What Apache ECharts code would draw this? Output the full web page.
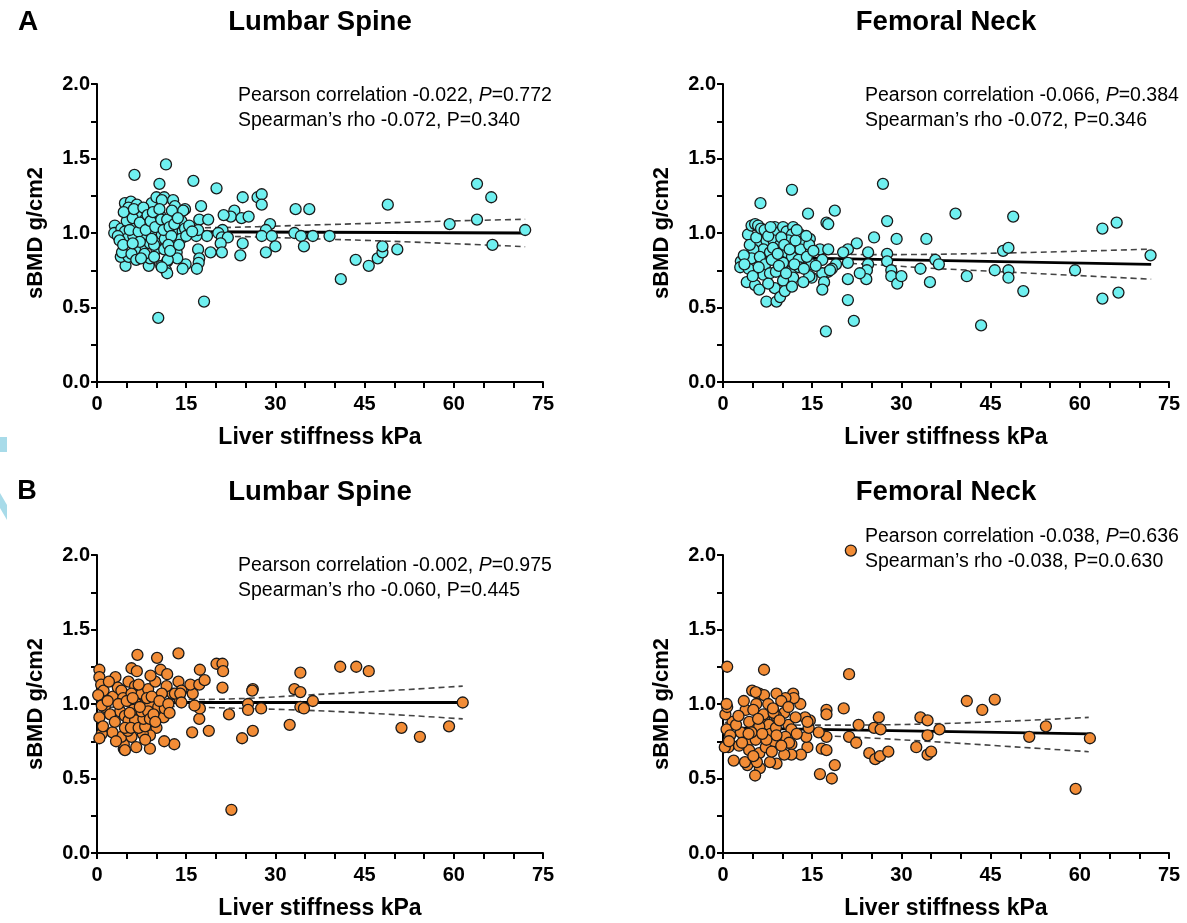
<!DOCTYPE html>
<html>
<head>
<meta charset="utf-8">
<script src="https://cdn.jsdelivr.net/npm/echarts@6/dist/echarts.min.js"></script>
<style>
html,body{margin:0;padding:0;background:#fff;}
#chart{width:1187px;height:923px;}
</style>
</head>
<body>
<div id="chart"></div>
<script>
// ---------------- DATA ----------------
const xTicks = [0, 15, 30, 45, 60, 75];
const yTicks = [0.0, 0.5, 1.0, 1.5, 2.0];
const panelTitles = ['Lumbar Spine', 'Femoral Neck', 'Lumbar Spine', 'Femoral Neck'];
const rowLabels = ['A', 'B'];
const xName = 'Liver stiffness kPa';
const yName = 'sBMD g/cm2';
const pearsonText = ['-0.022', '-0.066', '-0.002', '-0.038'];
const pearsonP = ['0.772', '0.384', '0.975', '0.636'];
const spearmanText = ['-0.072', '-0.072', '-0.060', '-0.038'];
const spearmanP = ['0.340', '0.346', '0.445', '0.0.630'];

// Panel A, Lumbar Spine  [liver stiffness kPa, sBMD]
const aLumbar = [
[6.3,1.39],[11.6,1.46],[10.5,1.33],[16.2,1.35],[20.1,1.30],[24.5,1.24],[27.0,1.24],[27.7,1.26],[27.7,1.19],[17.5,1.18],
[14.8,1.16],[33.4,1.16],[35.7,1.16],[48.9,1.19],[63.9,1.33],[66.3,1.24],[59.3,1.06],[63.9,1.09],[72.0,1.02],[66.5,0.92],
[23.1,1.15],[22.5,1.11],[21.3,1.12],[24.3,1.10],[25.5,1.11],[17.2,1.09],[18.7,1.09],[29.1,1.06],[28.4,1.02],[21.1,1.02],
[20.4,1.00],[21.0,0.97],[22.0,0.97],[20.8,0.93],[24.5,0.93],[24.1,0.85],[21.0,0.87],[19.1,0.87],[18.5,0.98],[16.7,0.98],
[17.0,0.89],[17.2,0.83],[17.1,0.80],[16.8,0.76],[14.9,0.79],[14.4,0.76],[18.0,0.54],[10.3,0.43],[27.7,0.98],[29.4,0.98],
[28.4,0.87],[30.0,0.91],[33.2,1.00],[34.3,0.98],[34.8,0.91],[36.3,0.98],[39.1,0.98],[41.0,0.69],[43.5,0.82],[45.7,0.78],
[47.2,0.83],[48.0,0.87],[48.0,0.91],[50.5,0.89],[11.8,0.81],[11.6,0.75],[11.8,0.73],[10.8,0.78],[8.8,0.80],[8.7,0.78],
[4.8,0.78],[4.0,0.84],[5.3,0.84],[4.2,0.87],[13.4,0.87],[13.5,0.83],
[3.0,1.05],[2.9,1.00],[4.1,1.03],[4.7,1.20],[5.7,1.21],[5.3,1.17],[5.3,1.11],[5.0,1.08],[4.7,1.01],[5.0,0.96],
[6.7,1.19],[6.7,1.13],[6.7,1.06],[6.1,0.98],[7.5,1.13],[8.4,1.15],[8.1,1.09],[8.6,1.05],[7.8,0.99],[7.5,0.89],
[6.4,0.89],[5.8,0.86],[8.9,0.93],[9.2,1.20],[10.0,1.24],[11.3,1.24],[10.9,1.22],[10.6,1.12],[10.3,1.06],[9.5,1.00],
[10.0,0.95],[10.9,0.99],[11.7,1.05],[11.9,1.01],[11.4,0.96],[10.0,0.89],[11.3,0.89],[11.9,0.82],[10.9,0.77],[12.8,1.22],
[13.1,1.18],[12.8,1.12],[13.4,1.02],[13.1,0.95],[14.5,1.15],[14.2,1.08],[14.4,1.01],[14.1,0.96],[14.8,1.03],[8.9,0.83],
[17.0,1.02],[3.5,0.98],[4.5,1.14],[5.5,1.02],[6.0,1.10],[6.2,1.16],[7.0,1.01],[7.2,1.07],[7.8,1.17],[8.2,1.02],
[8.5,1.12],[9.0,1.08],[9.4,1.14],[9.8,1.04],[9.6,0.92],[10.5,1.16],[10.8,1.09],[11.2,1.02],[11.8,1.09],[12.2,1.04],
[12.5,0.98],[12.0,0.92],[12.6,1.15],[13.0,1.06],[13.6,1.10],[7.2,0.94],[6.6,0.82],[8.0,0.86],[9.2,0.96],[3.8,0.95],
[4.4,0.92],[6.0,0.93],[7.4,0.83],[9.6,0.84],[12.3,0.88],[13.8,0.92],[15.0,0.98],[15.5,1.05],[16.0,1.01]
];

// Panel A, Femoral Neck
const aFemoral = [
[26.9,1.33],[11.6,1.29],[6.3,1.20],[14.3,1.13],[18.8,1.15],[17.4,1.07],[17.7,1.06],[27.6,1.08],[39.1,1.13],[48.8,1.11],
[63.8,1.03],[66.2,1.07],[71.9,0.85],[59.2,0.75],[63.8,0.56],[66.5,0.60],[43.4,0.38],[17.3,0.34],[22.0,0.41],[21.0,0.55],
[21.0,0.69],[25.4,0.97],[29.2,0.96],[34.2,0.96],[35.7,0.82],[36.3,0.79],[33.2,0.76],[34.8,0.67],[41.0,0.71],[45.7,0.75],
[47.1,0.88],[48.0,0.90],[48.0,0.75],[48.0,0.70],[50.5,0.61],[27.6,0.86],[27.6,0.81],[28.3,0.75],[28.3,0.71],[29.3,0.66],
[30.0,0.71],[24.4,0.87],[24.4,0.79],[24.2,0.75],[24.1,0.69],[23.0,0.73],[22.5,0.93],[21.0,0.89],[20.2,0.87],[21.0,0.80],
[19.0,0.79],[18.3,0.76],[17.7,0.74],[16.7,0.73],[17.0,0.67],[16.7,0.62],[16.3,0.89],[17.7,0.89],[16.7,0.82],[14.9,0.70],
[14.5,0.71],[14.9,0.79],
[3.0,0.81],[2.9,0.77],[4.3,0.76],[4.0,0.67],[5.4,0.65],[6.1,0.62],[4.2,0.99],[4.8,1.05],[5.4,1.06],[5.9,1.05],
[6.5,1.00],[6.1,0.94],[7.3,0.95],[6.8,0.89],[5.1,0.89],[4.8,0.83],[6.2,0.84],[7.1,0.79],[6.8,0.72],[7.9,0.73],
[7.9,0.87],[8.2,0.82],[8.7,1.04],[9.0,1.00],[8.5,0.95],[9.6,0.92],[10.1,1.04],[10.7,1.01],[11.8,1.04],[11.6,0.99],
[11.0,0.95],[10.7,0.87],[11.6,0.84],[10.1,0.80],[11.6,0.75],[11.8,0.70],[10.1,0.68],[8.7,0.63],[7.3,0.54],[9.0,0.54],
[9.6,0.57],[10.4,0.61],[11.6,0.64],[13.0,0.99],[13.2,0.94],[13.0,0.89],[12.7,0.82],[13.5,0.67],[14.1,0.84],[14.6,0.96],
[14.5,0.92],[18.0,0.75],
[3.5,0.85],[4.5,0.92],[5.6,0.97],[6.4,1.03],[7.0,1.02],[7.6,0.98],[8.0,1.04],[8.4,0.90],[9.2,0.86],[9.8,0.97],
[10.3,0.92],[11.2,0.89],[12.2,0.95],[12.4,1.02],[12.8,0.77],[7.6,0.66],[8.9,0.74],[9.4,0.78],[10.6,0.73],[12.0,0.79],
[5.0,0.71],[6.0,0.77],[3.6,0.79],[13.6,0.76],[14.0,0.98],[15.6,0.78],[15.2,0.88]
];

// Panel B, Lumbar Spine
const bLumbar = [
[22.6,0.29],[6.8,1.33],[10.1,1.31],[13.7,1.34],[20.1,1.27],[21.1,1.27],[21.2,1.22],[17.3,1.23],[10.7,1.23],[11.8,1.20],
[40.9,1.25],[43.6,1.25],[45.7,1.22],[34.2,1.21],[21.1,1.11],[26.2,1.10],[26.1,1.09],[33.2,1.10],[34.2,1.08],[36.3,1.02],
[61.5,1.01],[34.2,0.98],[34.8,0.97],[32.4,0.86],[27.6,0.97],[25.4,1.00],[25.4,0.96],[26.2,0.82],[24.4,0.77],[22.2,0.93],
[18.8,0.82],[16.0,0.81],[17.2,0.90],[17.3,0.97],[16.4,0.99],[16.1,1.07],[15.7,1.13],[17.2,1.13],[18.1,1.16],[13.7,1.15],
[14.2,1.09],[12.7,1.07],[13.9,1.03],[13.0,0.73],[11.3,0.75],[8.9,0.70],[6.6,0.71],[4.5,0.70],[4.5,0.73],[4.1,0.78],
[2.6,0.81],[0.8,0.80],[0.4,0.77],[10.0,0.84],[8.9,0.79],[7.7,0.80],[5.8,0.78],[5.2,0.82],[51.2,0.84],[54.3,0.78],
[59.2,0.85],[0.4,1.23],[0.4,1.18],[0.7,1.13],[1.1,1.09],[0.2,1.06],[0.4,0.91],[1.3,0.98],[3.1,1.18],[2.7,1.05],
[3.5,1.11],
[0.8,0.99],[4.1,1.09],[4.4,1.04],[3.9,0.95],[4.7,0.92],[5.3,0.89],[4.7,0.84],[5.3,1.15],[5.8,1.24],[6.7,1.22],
[6.4,1.12],[5.8,1.07],[6.7,1.00],[6.1,0.96],[6.4,0.89],[5.7,0.84],[7.0,0.84],[8.1,0.76],[8.1,0.85],[7.8,0.90],
[7.5,0.95],[8.1,1.00],[7.5,1.07],[8.6,1.10],[8.9,0.99],[8.6,0.95],[8.9,0.90],[9.8,1.15],[10.3,0.98],[11.2,0.91],
[11.4,0.97],[11.7,1.12],[10.9,1.07],[13.1,1.07],[14.0,1.07],[14.2,1.01],[4.7,0.69],
[1.8,1.02],[2.2,0.93],[3.0,0.88],[3.6,1.00],[5.0,1.02],[5.5,0.94],[6.0,1.04],[7.2,0.98],[7.0,1.13],[8.4,1.04],
[9.2,1.05],[9.5,0.93],[9.8,0.88],[10.5,1.02],[12.0,1.00],[12.2,0.94],[3.2,0.75],[1.0,0.85],[2.0,1.15],[9.0,1.19]
];

// Panel B, Femoral Neck
const bFemoral = [
[21.5,2.03],
[0.7,1.25],[6.9,1.23],[21.2,1.20],[41.0,1.02],[43.6,0.96],[45.7,1.03],[20.3,0.97],[17.4,0.96],[17.4,0.93],[26.2,0.91],
[33.2,0.91],[34.4,0.89],[36.4,0.83],[34.4,0.79],[54.3,0.85],[51.5,0.78],[61.7,0.77],[59.3,0.43],[22.8,0.86],[25.4,0.84],
[26.5,0.83],[21.2,0.78],[22.4,0.74],[24.6,0.67],[25.6,0.63],[26.4,0.65],[27.8,0.68],[32.5,0.71],[34.4,0.66],[35.0,0.68],
[18.8,0.59],[18.3,0.50],[16.3,0.53],[16.6,0.70],[17.4,0.69],[17.4,0.78],[16.1,0.81],[14.2,0.71],[13.1,0.66],[14.0,0.78],
[14.4,0.84],[14.6,0.89],[13.8,0.91],[13.0,1.00],[11.8,1.07],[11.9,1.04],[10.5,1.04],[9.0,1.07],[10.3,0.94],[11.0,0.86],
[11.5,0.83],[11.5,0.73],[11.5,0.66],[10.3,0.66],[9.0,0.60],[7.9,0.61],[6.2,0.57],[5.4,0.52],[4.1,0.59],[1.8,0.62],
[0.9,0.71],[0.3,0.71],[2.7,0.72],[3.0,0.81],[1.6,0.88],[0.4,0.93],[0.7,0.98],[0.6,1.00],[0.6,0.83],[4.9,1.09],
[6.1,1.07],[6.9,1.06],[5.6,1.00],[3.8,0.96],[6.9,0.90],[8.9,0.92],[7.7,0.86],[4.4,0.88],[6.1,0.85],[4.7,0.76],
[5.5,0.76],[4.4,0.69],[6.1,0.67],[7.2,0.71],[8.6,0.75],[8.0,0.80],[8.9,0.84],[10.5,0.78],[11.1,0.74],
[5.5,1.08],[9.8,1.02],[5.1,0.96],[6.8,0.93],[8.5,0.94],[4.8,0.81],[9.0,0.79],[7.3,0.76],[4.3,0.80],[14.2,0.88],
[3.7,0.61],[5.7,0.61],[5.1,0.65],
[1.2,0.79],[2.2,0.86],[2.6,0.92],[3.2,0.74],[5.9,0.90],[6.6,0.80],[7.6,1.00],[8.2,0.68],[9.5,0.89],[9.8,0.72],
[11.0,0.98],[12.2,0.91],[12.4,0.80],[3.5,1.02],[1.0,0.75],[8.4,0.97]
];

// Regression lines (fit) and 95% confidence bands
const fitALumbar = [[3, 1.01], [72, 1.00]];
const ciALumbarUp = [[3, 1.043], [15, 1.035], [39, 1.057], [59, 1.080], [72, 1.092]];
const ciALumbarLo = [[3, 0.972], [15, 0.980], [39, 0.958], [59, 0.930], [72, 0.908]];
const fitAFemoral = [[3, 0.84], [72, 0.79]];
const ciAFemoralUp = [[3, 0.874], [15, 0.860], [27, 0.855], [50, 0.868], [72, 0.892]];
const ciAFemoralLo = [[3, 0.800], [15, 0.800], [38, 0.757], [72, 0.690]];
const fitBLumbar = [[0.3, 1.01], [61.5, 1.01]];
const ciBLumbarUp = [[0.3, 1.040], [10, 1.030], [15.6, 1.030], [40, 1.070], [61.5, 1.120]];
const ciBLumbarLo = [[0.3, 0.975], [10, 0.985], [15.6, 0.980], [40, 0.950], [61.5, 0.900]];
const fitBFemoral = [[0.3, 0.84], [61.5, 0.80]];
const ciBFemoralUp = [[0.3, 0.875], [15, 0.858], [30, 0.862], [61.5, 0.910]];
const ciBFemoralLo = [[0.3, 0.805], [15, 0.790], [30, 0.760], [61.5, 0.680]];

// ---------------- CHART ----------------
const FONT = '"Liberation Sans", Arial, Helvetica, sans-serif';
const cyan = '#6ff0f0';
const orange = '#f28c36';
const chart = echarts.init(document.getElementById('chart'), null, {renderer: 'canvas'});

const grids = [
  {left: 97, top: 84, width: 446, height: 298},
  {left: 723, top: 84, width: 446, height: 298},
  {left: 97, top: 555, width: 446, height: 298},
  {left: 723, top: 555, width: 446, height: 298}
];

const axisLine = {show: true, lineStyle: {color: '#000', width: 2}};
const tickStyle = {show: true, length: 6, inside: false, lineStyle: {color: '#000', width: 2}};

const xAxes = grids.map((g, i) => ({
  gridIndex: i, type: 'value', min: xTicks[0], max: xTicks[xTicks.length - 1], interval: 15,
  axisLine: axisLine, axisTick: tickStyle,
  minorTick: {show: true, splitNumber: 3, length: 6, lineStyle: {color: '#000', width: 2}},
  splitLine: {show: false},
  axisLabel: {margin: 12, color: '#000', fontSize: 20, fontWeight: 'bold', fontFamily: FONT},
  name: xName, nameLocation: 'middle', nameGap: 44,
  nameTextStyle: {color: '#000', fontSize: 23, fontWeight: 'bold', fontFamily: FONT}
}));

const yAxes = grids.map((g, i) => ({
  gridIndex: i, type: 'value', min: yTicks[0], max: yTicks[yTicks.length - 1], interval: 0.5,
  axisLine: axisLine, axisTick: tickStyle,
  minorTick: {show: true, splitNumber: 2, length: 6, lineStyle: {color: '#000', width: 2}},
  splitLine: {show: false},
  axisLabel: {margin: 7, color: '#000', fontSize: 20, fontWeight: 'bold', fontFamily: FONT,
    formatter: v => v.toFixed(1)},
  name: yName, nameLocation: 'middle', nameGap: 50, nameRotate: 90,
  nameTextStyle: {color: '#000', fontSize: 22, fontWeight: 'bold', fontFamily: FONT}
}));

const panels = [
  {pts: aLumbar, color: cyan, fit: fitALumbar, up: ciALumbarUp, lo: ciALumbarLo},
  {pts: aFemoral, color: cyan, fit: fitAFemoral, up: ciAFemoralUp, lo: ciAFemoralLo},
  {pts: bLumbar, color: orange, fit: fitBLumbar, up: ciBLumbarUp, lo: ciBLumbarLo},
  {pts: bFemoral, color: orange, fit: fitBFemoral, up: ciBFemoralUp, lo: ciBFemoralLo}
];

const series = [];
panels.forEach((p, i) => {
  ['up', 'lo'].forEach(k => series.push({
    type: 'line', xAxisIndex: i, yAxisIndex: i, data: p[k], smooth: 0.4, symbol: 'none',
    lineStyle: {color: '#444', width: 1.6, type: [6, 4]}, z: 2, silent: true
  }));
  series.push({
    type: 'line', xAxisIndex: i, yAxisIndex: i, data: p.fit, symbol: 'none',
    lineStyle: {color: '#000', width: 2.8}, z: 3, silent: true
  });
  series.push({
    type: 'scatter', xAxisIndex: i, yAxisIndex: i, data: p.pts, symbolSize: 11, clip: false,
    itemStyle: {color: p.color, borderColor: '#1a1a1a', borderWidth: 1.3, opacity: 1}, z: 4
  });
});

function txt(x, y, text, size, weight, align, rich) {
  return {type: 'text', x: x, y: y, z: 10,
    style: {text: text, fill: '#000', fontSize: size, fontWeight: weight, fontFamily: FONT,
      align: align || 'left', verticalAlign: 'middle', rich: rich}};
}
const italicRich = {i: {fontStyle: 'italic', fontSize: 19.5, fontFamily: FONT, fill: '#000'}};
const annoPos = [[238, 96], [865, 96], [238, 566], [865, 537]];

const graphics = [
  // decorative light-blue marks at the left page edge
  {type: 'polygon', shape: {points: [[0, 437], [7, 437], [7, 452], [0, 452]]}, style: {fill: '#a8dbe9'}},
  {type: 'polygon', shape: {points: [[0, 493], [7, 505], [7, 520], [0, 508]]}, style: {fill: '#a8dbe9'}},
  txt(28, 22, rowLabels[0], 28, 'bold', 'center'),
  txt(27, 492, rowLabels[1], 27, 'bold', 'center'),
  txt(320, 22, panelTitles[0], 27.5, 'bold', 'center'),
  txt(946, 22, panelTitles[1], 27.5, 'bold', 'center'),
  txt(320, 492, panelTitles[2], 27.5, 'bold', 'center'),
  txt(946, 492, panelTitles[3], 27.5, 'bold', 'center')
];
annoPos.forEach((pos, i) => {
  graphics.push(txt(pos[0], pos[1], 'Pearson correlation ' + pearsonText[i] + ', {i|P}=' + pearsonP[i], 19.5, 'normal', 'left', italicRich));
  graphics.push(txt(pos[0], pos[1] + 25, 'Spearman\u2019s rho ' + spearmanText[i] + ', P=' + spearmanP[i], 19.5, 'normal', 'left'));
});

chart.setOption({
  backgroundColor: '#fff',
  animation: false,
  grid: grids,
  xAxis: xAxes,
  yAxis: yAxes,
  series: series,
  graphic: graphics
});
</script>
</body>
</html>
